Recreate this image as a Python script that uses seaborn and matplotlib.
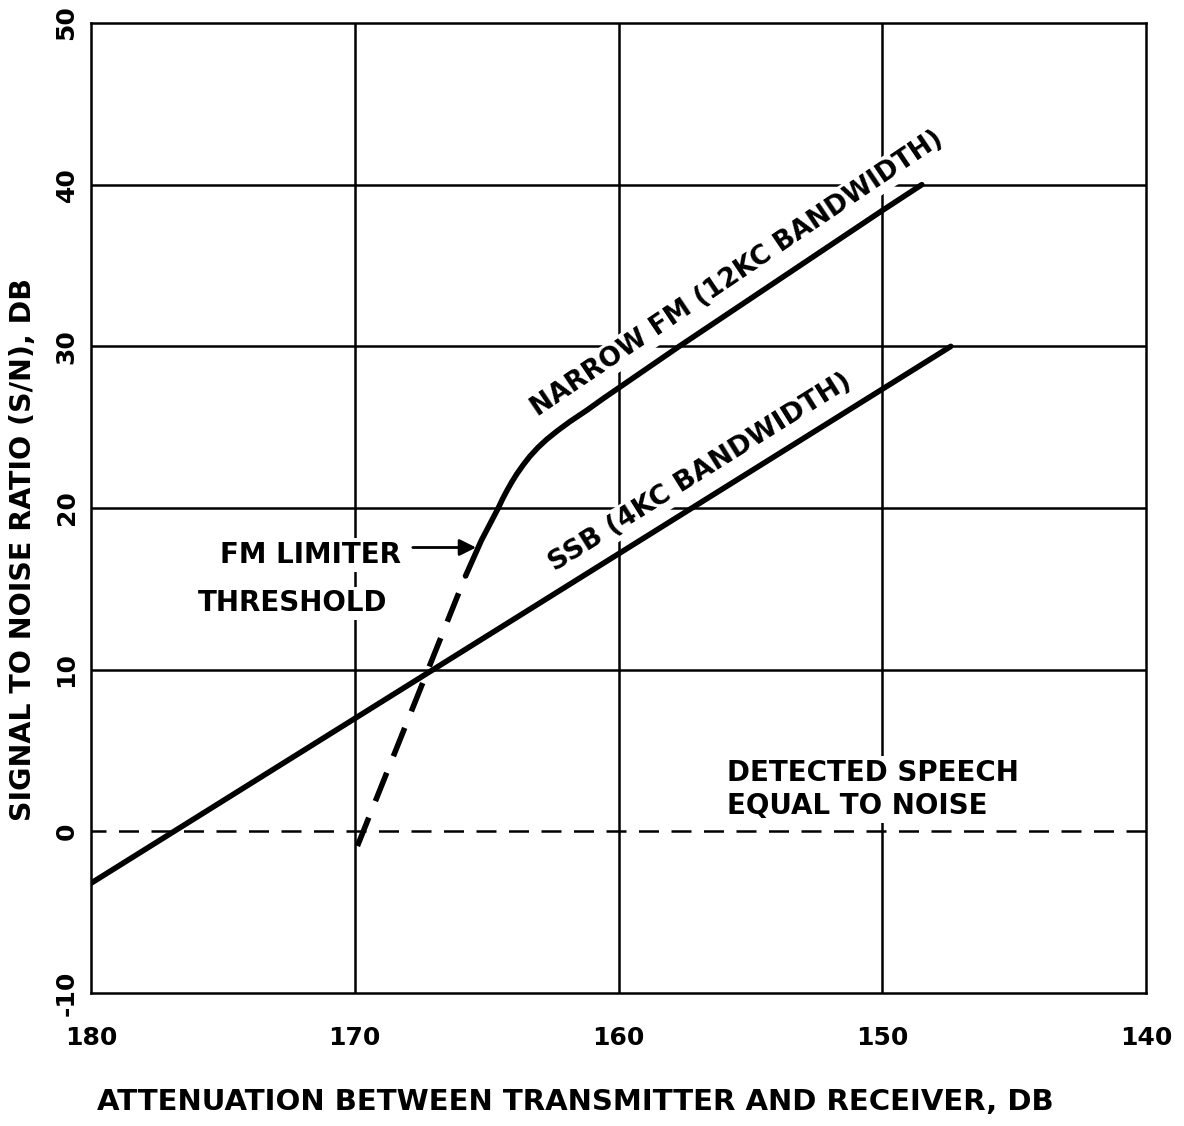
import matplotlib
matplotlib.use("Agg")
import matplotlib.pyplot as plt
import seaborn as sns
import pandas as pd

# Attenuation between transmitter and receiver (dB) vs. signal-to-noise ratio (dB)
ssb_atten = [180.0, 147.4]
ssb_snr = [-3.2, 30.0]

fm_solid_atten = [165.8, 165.2, 164.56, 164.40, 164.24, 164.05, 163.86, 163.60,
                  163.36, 163.05, 162.72, 162.30, 161.84, 161.2, 160.6, 157.7,
                  150.0, 148.5]
fm_solid_snr = [15.8, 18.0, 20.0, 20.55, 21.05, 21.6, 22.1, 22.7,
                23.2, 23.75, 24.25, 24.8, 25.35, 26.05, 26.75, 30.0,
                38.4, 40.0]

fm_dashed_atten = [169.9, 165.8]
fm_dashed_snr = [-0.9, 15.8]

speech_noise_atten = [180.0, 140.0]
speech_noise_snr = [0.0, 0.0]

x_ticks = [180, 170, 160, 150, 140]
y_ticks = [-10, 0, 10, 20, 30, 40, 50]

sns.set_theme(style="white")
plt.rcParams["font.family"] = ["DejaVu Sans"]
plt.rcParams["text.color"] = "black"
plt.rcParams["axes.labelcolor"] = "black"
plt.rcParams["xtick.color"] = "black"
plt.rcParams["ytick.color"] = "black"
plt.rcParams["font.weight"] = "bold"

fig = plt.figure(figsize=(11.84, 11.26), dpi=100)
ax = fig.add_axes([0.0769, 0.118, 0.8910, 0.8616])

ax.set_xlim(180, 140)
ax.set_ylim(-10, 50)

# grid lines (the 0 dB line is drawn dashed separately)
for xv in [170, 160, 150]:
    ax.axvline(xv, color="black", lw=1.8, zorder=1)
for yv in [10, 20, 30, 40]:
    ax.axhline(yv, color="black", lw=1.8, zorder=1)

df_zero = pd.DataFrame({"atten": speech_noise_atten, "snr": speech_noise_snr})
sns.lineplot(data=df_zero, x="atten", y="snr", ax=ax, color="black", lw=1.8,
             linestyle=(0, (8, 5)), zorder=2)

df_ssb = pd.DataFrame({"atten": ssb_atten, "snr": ssb_snr})
sns.lineplot(data=df_ssb, x="atten", y="snr", ax=ax, color="black", lw=4.0,
             zorder=4, sort=False)

df_fm = pd.DataFrame({"atten": fm_solid_atten, "snr": fm_solid_snr})
sns.lineplot(data=df_fm, x="atten", y="snr", ax=ax, color="black", lw=4.0,
             zorder=4, sort=False)

df_fmd = pd.DataFrame({"atten": fm_dashed_atten, "snr": fm_dashed_snr})
sns.lineplot(data=df_fmd, x="atten", y="snr", ax=ax, color="black", lw=4.0,
             linestyle=(0, (5.5, 3.2)), zorder=4, sort=False)

for s in ax.spines.values():
    s.set_color("black")
    s.set_linewidth(1.8)
    s.set_visible(True)

ax.set_xticks(x_ticks)
ax.set_xticklabels([str(v) for v in x_ticks], fontsize=18, fontweight="bold")
ax.set_yticks(y_ticks)
ax.set_yticklabels([str(v) for v in y_ticks], fontsize=18, fontweight="bold",
                   rotation=90, va="center")
ax.tick_params(axis="x", length=0, pad=24)
ax.tick_params(axis="y", length=0, pad=9)

ax.set_xlabel("ATTENUATION BETWEEN TRANSMITTER AND RECEIVER, DB", fontsize=21,
              fontweight="bold")
ax.xaxis.set_label_coords(0.459, -0.098)
ax.set_ylabel("SIGNAL TO NOISE RATIO (S/N), DB", fontsize=20.5, fontweight="bold")
ax.yaxis.set_label_coords(-0.051, 0.457)

box = dict(facecolor="white", edgecolor="none", pad=2)

ax.text(155.5, 34.5, "NARROW FM (12KC BANDWIDTH)", fontsize=19,
        fontweight="bold", rotation=34, rotation_mode="anchor",
        ha="center", va="center", bbox=box, zorder=3)
ax.text(156.9, 22.2, "SSB (4KC BANDWIDTH)", fontsize=19.5, fontweight="bold",
        rotation=32, rotation_mode="anchor", ha="center", va="center",
        bbox=box, zorder=3)

ax.text(175.1, 17.1, "FM LIMITER", fontsize=20, fontweight="bold",
        ha="left", va="center", bbox=box, zorder=3)
ax.text(175.94, 14.1, "THRESHOLD", fontsize=20, fontweight="bold",
        ha="left", va="center", bbox=box, zorder=3)
ax.annotate("", xy=(165.4, 17.56), xytext=(167.8, 17.56),
            arrowprops=dict(arrowstyle="-|>", lw=2.0, color="black",
                            mutation_scale=25, shrinkA=0, shrinkB=0),
            zorder=5)

ax.text(155.89, 3.6, "DETECTED SPEECH", fontsize=20, fontweight="bold",
        ha="left", va="center", bbox=box, zorder=3)
ax.text(155.89, 1.55, "EQUAL TO NOISE", fontsize=20, fontweight="bold",
        ha="left", va="center", bbox=box, zorder=3)

fig.savefig("out.png", dpi=100)
